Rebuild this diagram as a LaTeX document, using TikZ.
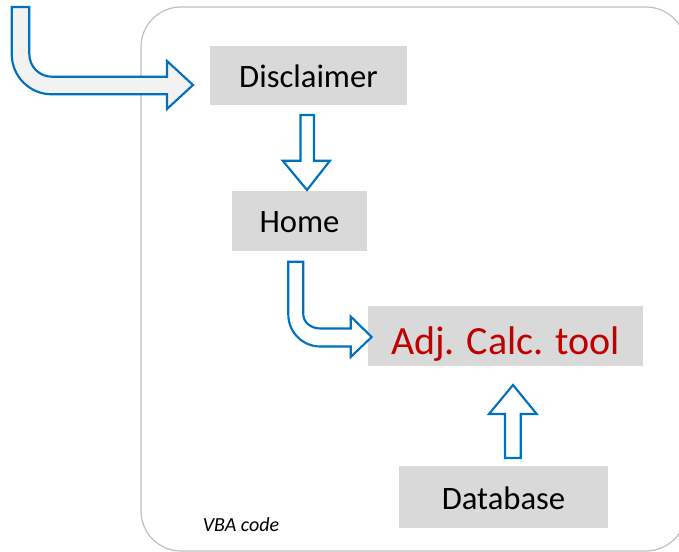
\documentclass[tikz,border=0pt]{standalone}
\usepackage{fontspec}
\setmainfont{Carlito}
\definecolor{boxgray}{HTML}{D9D9D9}
\definecolor{arrblue}{HTML}{0070C0}
\definecolor{arrfill}{HTML}{F2F2F2}
\definecolor{frame}{HTML}{BFBFBF}
\definecolor{darkred}{HTML}{C00000}
\tikzset{
  box/.style={fill=boxgray, draw=none, inner sep=0pt, text height=18.3pt, text depth=0pt, font=\fontsize{24.5}{28}\selectfont},
  blockarrow/.style={draw=arrblue, line width=1.6pt, line join=miter, fill=white},
  framebox/.style={draw=frame, line width=0.9pt, rounded corners=30pt}
}
\begin{document}
\begin{tikzpicture}[x=0.75pt,y=-0.75pt]
\useasboundingbox (0,0) rectangle (679,552);
\clip (0,0) rectangle (679,552);
% frame
\draw[framebox] (141,7) rectangle (686,551);
% boxes
\node[box, minimum width=147.75pt, minimum height=44.25pt] (disc) at (308.5,75.5) {Disclaimer};
\node[box, minimum width=101.25pt, minimum height=45pt, text height=17.7pt] (home) at (299.5,221) {Home};
\node[box, minimum width=206.25pt, minimum height=45pt, text=darkred, text height=27.4pt, font=\fontsize{30}{36}\selectfont] (adj) at (505.5,336) {Adj. Calc. tool};
\node[box, minimum width=156.75pt, minimum height=46.5pt] (db) at (503.5,497) {Database};
\node[font=\itshape\fontsize{15}{18}\selectfont, inner sep=0pt] (vba) at (241,525) {VBA code};
% entry arrow
\draw[blockarrow, fill=arrfill] (11.7,7) -- (11.7,54)
  .. controls (11.7,76.3) and (29.6,94.3) .. (51.7,94.3)
  -- (167,94.3) -- (167,109) -- (193,85) -- (167,61) -- (167,76.7) -- (51.7,76.7)
  .. controls (39.3,76.7) and (29.3,66.5) .. (29.3,54)
  -- (29.3,7) -- cycle;
% disclaimer -> home
\draw[blockarrow] (300.5,115) -- (314,115) -- (314,160.7) -- (330,160.7) -- (307,190) -- (282.7,160.7) -- (300.5,160.7) -- cycle;
% home -> adj
\draw[blockarrow] (288.3,261.7) -- (288.3,314.5)
  .. controls (288.3,332.2) and (302.6,346.5) .. (320.3,346.5)
  -- (350.7,346.5) -- (350.7,357) -- (371.7,337) -- (350.7,316.5) -- (350.7,328.5) -- (320.3,328.5)
  .. controls (310.9,328.5) and (303.3,322.2) .. (303.3,314.5)
  -- (303.3,261.7) -- cycle;
% database -> adj
\draw[blockarrow] (505,458) -- (520.7,458) -- (520.7,414) -- (536.7,414) -- (513,385) -- (489,414) -- (505,414) -- cycle;
\end{tikzpicture}
\end{document}
